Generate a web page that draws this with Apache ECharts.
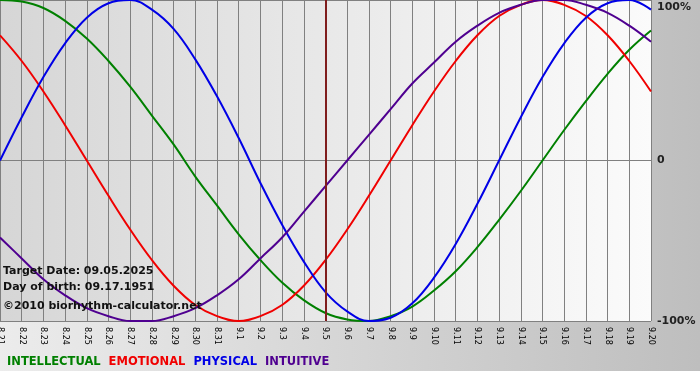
<!DOCTYPE html>
<html><head><meta charset="utf-8">
<script src="https://cdn.jsdelivr.net/npm/echarts@6/dist/echarts.min.js"></script>
<style>html,body{margin:0;padding:0;background:#fff}#c{width:700px;height:380px}</style>
</head><body><div id="c"></div>
<script>
const categories = ['8.21','8.22','8.23','8.24','8.25','8.26','8.27','8.28','8.29','8.30','8.31','9.1','9.2','9.3','9.4','9.5','9.6','9.7','9.8','9.9','9.10','9.11','9.12','9.13','9.14','9.15','9.16','9.17','9.18','9.19','9.20'];
const intellectual = [1.00,0.99,0.95,0.87,0.76,0.62,0.46,0.28,0.10,-0.10,-0.28,-0.46,-0.62,-0.76,-0.87,-0.95,-0.99,-1.00,-0.97,-0.91,-0.81,-0.69,-0.54,-0.37,-0.19,0,0.19,0.37,0.54,0.69,0.81];
const emotional = [0.78,0.62,0.43,0.22,0,-0.22,-0.43,-0.62,-0.78,-0.90,-0.97,-1.00,-0.97,-0.90,-0.78,-0.62,-0.43,-0.22,0,0.22,0.43,0.62,0.78,0.90,0.97,1.00,0.97,0.90,0.78,0.62,0.43];
const physical = [0,0.27,0.52,0.73,0.89,0.98,1.00,0.94,0.82,0.63,0.40,0.14,-0.14,-0.40,-0.63,-0.82,-0.94,-1.00,-0.98,-0.89,-0.73,-0.52,-0.27,0,0.27,0.52,0.73,0.89,0.98,1.00,0.94];
const intuitive = [-0.48,-0.61,-0.74,-0.84,-0.92,-0.97,-1.00,-1.00,-0.97,-0.92,-0.84,-0.74,-0.61,-0.48,-0.32,-0.16,0,0.16,0.32,0.48,0.61,0.74,0.84,0.92,0.97,1.00,1.00,0.97,0.92,0.84,0.74];
const targetDay = '9.5';
const yTickLabels = {'1':'100%','0':'0','-1':'-100%'};
const infoLines = ['Target Date: 09.05.2025','Day of birth: 09.17.1951','\u00a92010 biorhythm-calculator.net'];

const seriesDefs = [
  {name:'INTELLECTUAL', data:intellectual, color:'#008000'},
  {name:'EMOTIONAL', data:emotional, color:'#f00000'},
  {name:'PHYSICAL', data:physical, color:'#0000e6'},
  {name:'INTUITIVE', data:intuitive, color:'#4f0090'}
];
const font = '"DejaVu Sans", Verdana, sans-serif';
const labelStyle = {fontFamily:font,fontSize:11,fontWeight:'bold',color:'#222'};
const chart = echarts.init(document.getElementById('c'), null, {renderer:'canvas'});
chart.setOption({
  animation:false,
  backgroundColor:{type:'linear',x:0,y:0,x2:1,y2:0,colorStops:[{offset:0,color:'#ececec'},{offset:1,color:'#bebebe'}]},
  grid:{left:0,top:0,right:49,bottom:59,show:true,borderWidth:0,outerBoundsMode:'none',containLabel:false,
    backgroundColor:{type:'linear',x:0,y:0,x2:1,y2:0,colorStops:[{offset:0,color:'#d6d6d6'},{offset:1,color:'#fbfbfb'}]}},
  legend:{left:2,top:356,itemWidth:0,itemHeight:0,itemGap:3,icon:'none',selectedMode:false,padding:0,
    data:seriesDefs.map(s=>({name:s.name,icon:'none',textStyle:{color:s.color,fontFamily:font,fontWeight:'bold',fontSize:11.5}}))},
  xAxis:{type:'category',data:categories,boundaryGap:false,
    axisLine:{lineStyle:{color:'#808080',width:1}},
    axisTick:{show:true,interval:0,length:5,lineStyle:{color:'#808080'}},
    axisLabel:{interval:0,rotate:-90,margin:6,fontFamily:font,fontSize:8,color:'#000'},
    splitLine:{show:true,interval:0,lineStyle:{color:'#808080',width:1}}},
  yAxis:{type:'value',min:-1,max:1,interval:1,position:'right',
    axisLine:{show:false},axisTick:{show:false},
    axisLabel:{margin:6,formatter:v=>(v===1?'{t|':'{m|')+yTickLabels[String(v)]+'}',
      rich:{t:Object.assign({padding:[14,0,0,0]},labelStyle),m:Object.assign({},labelStyle)}},
    splitLine:{show:true,lineStyle:{color:'#808080',width:1}}},
  graphic:[
    {type:'rect',left:0,top:371,shape:{width:700,height:9},style:{fill:'#ffffff'},z:-1},
    {type:'text',left:3,top:266,style:{text:infoLines[0],font:'bold 11px '+font,fill:'#111'},z:10},
    {type:'text',left:3,top:282,style:{text:infoLines[1],font:'bold 11px '+font,fill:'#111'},z:10},
    {type:'text',left:3,top:301,style:{text:infoLines[2],font:'bold 11px '+font,fill:'#111'},z:10}
  ],
  series:seriesDefs.map((s,i)=>({
    name:s.name,type:'line',data:s.data,smooth:0.4,showSymbol:false,symbol:'none',
    lineStyle:{color:s.color,width:2},itemStyle:{color:s.color},
    markLine: i===0 ? {silent:true,symbol:'none',label:{show:false},lineStyle:{color:'#7f1d1d',width:2,type:'solid'},data:[{xAxis:targetDay}]} : undefined
  }))
});
</script></body></html>
